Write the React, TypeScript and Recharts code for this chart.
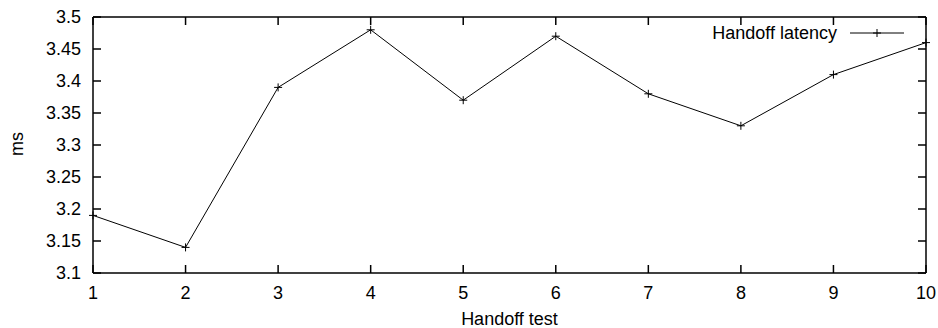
import React from 'react';
import { LineChart, Line, XAxis, YAxis, LabelList } from 'recharts';

const tests = [1, 2, 3, 4, 5, 6, 7, 8, 9, 10];
const latency = [3.19, 3.14, 3.39, 3.48, 3.37, 3.47, 3.38, 3.33, 3.41, 3.46];
const yTicks = [3.1, 3.15, 3.2, 3.25, 3.3, 3.35, 3.4, 3.45, 3.5];
const xTicks = [1, 2, 3, 4, 5, 6, 7, 8, 9, 10];
const seriesName = 'Handoff latency';
const xTitle = 'Handoff test';
const yTitle = 'ms';

const data = tests.map((t, i) => ({ test: t, latency: latency[i] }));

const FONT = '"Liberation Sans", Arial, sans-serif';
const FS = 18;

const renderPlus = (props: any) => {
  const vb = props.viewBox || {};
  const cx = vb.x != null ? vb.x + (vb.width || 0) / 2 : props.x;
  const cy = vb.y != null ? vb.y + (vb.height || 0) / 2 : props.y;
  if (cx == null || cy == null || isNaN(cx) || isNaN(cy)) return null;
  return (
    <path
      key={`p-${props.index}`}
      d={`M${cx - 4},${cy}H${cx + 4}M${cx},${cy - 4}V${cy + 4}`}
      stroke="#000"
      strokeWidth={1}
      fill="none"
    />
  );
};

const NoTick = () => null;

export default function App() {
  const tickStyle = { fontFamily: FONT, fontSize: FS, fill: '#000' };
  return (
    <div style={{ position: 'absolute', left: 0, top: 0, width: 938, height: 328, background: '#fff' }}>
      <LineChart width={938} height={328} data={data} margin={{ top: 16, right: 11, bottom: 0, left: 0 }}>
        <XAxis
          xAxisId="bottom"
          dataKey="test"
          type="number"
          domain={[1, 10]}
          ticks={xTicks}
          height={55}
          tickSize={-8}
          tickMargin={21}
          tick={tickStyle}
          tickLine={{ stroke: '#000', strokeWidth: 1.5 }}
          axisLine={{ stroke: '#000', strokeWidth: 1.5 }}
          interval={0}
        />
        <XAxis
          xAxisId="top"
          orientation="top"
          dataKey="test"
          type="number"
          domain={[1, 10]}
          ticks={xTicks}
          height={1}
          tickSize={-8}
          tick={<NoTick />}
          tickLine={{ stroke: '#000', strokeWidth: 1.5 }}
          axisLine={{ stroke: '#000', strokeWidth: 1.5 }}
          interval={0}
        />
        <YAxis
          yAxisId="left"
          domain={[3.1, 3.5]}
          ticks={yTicks}
          width={93}
          tickSize={-8}
          tickMargin={20}
          tick={tickStyle}
          tickLine={{ stroke: '#000', strokeWidth: 1.5 }}
          axisLine={{ stroke: '#000', strokeWidth: 1.5 }}
          interval={0}
          allowDataOverflow
        />
        <YAxis
          yAxisId="right"
          orientation="right"
          domain={[3.1, 3.5]}
          ticks={yTicks}
          width={1}
          tickSize={-8}
          tick={<NoTick />}
          tickLine={{ stroke: '#000', strokeWidth: 1.5 }}
          axisLine={{ stroke: '#000', strokeWidth: 1.5 }}
          interval={0}
          allowDataOverflow
        />
        <Line
          xAxisId="top"
          yAxisId="right"
          dataKey="latency"
          stroke="none"
          dot={false}
          activeDot={false}
          legendType="none"
          isAnimationActive={false}
        />
        <Line
          xAxisId="bottom"
          yAxisId="left"
          name={seriesName}
          dataKey="latency"
          stroke="#000"
          strokeWidth={1}
          dot={false}
          activeDot={false}
          isAnimationActive={false}
        >
          <LabelList dataKey="latency" content={renderPlus} />
        </Line>
      </LineChart>
      <svg
        width={938}
        height={328}
        style={{ position: 'absolute', left: 0, top: 0, pointerEvents: 'none' }}
      >
        <text x={509.5} y={325} textAnchor="middle" fontFamily={FONT} fontSize={FS} fill="#000">
          {xTitle}
        </text>
        <text
          x={23}
          y={144}
          transform="rotate(-90, 23, 144)"
          textAnchor="middle"
          fontFamily={FONT}
          fontSize={FS}
          fill="#000"
        >
          {yTitle}
        </text>
        <text x={837} y={39} textAnchor="end" fontFamily={FONT} fontSize={FS} fill="#000">
          {seriesName}
        </text>
        <line x1={850} y1={33} x2={904} y2={33} stroke="#000" strokeWidth={1} />
        <path d="M877,29V37M873,33H881" stroke="#000" strokeWidth={1} fill="none" />
      </svg>
    </div>
  );
}
